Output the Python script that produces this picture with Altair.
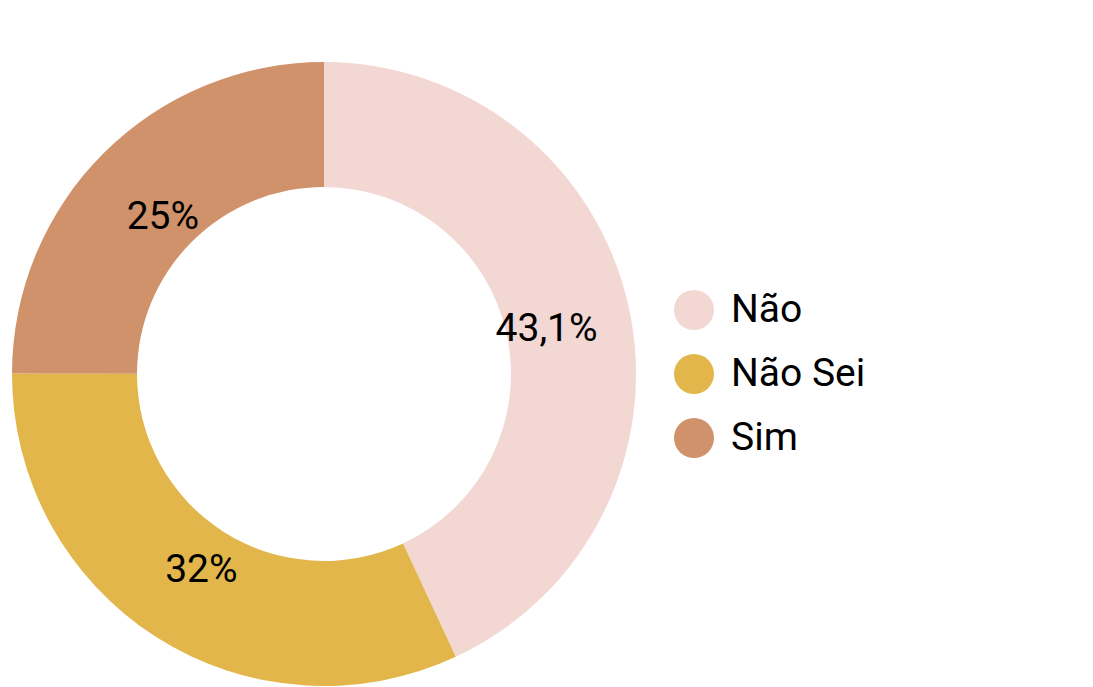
import altair as alt
import pandas as pd

categories = ["Não", "Não Sei", "Sim"]
values = [43.1, 32.0, 25.0]
labels = ["43,1%", "32%", "25%"]
colors = ["#f2d7d2", "#e2b64a", "#d0926a"]

df = pd.DataFrame({"cat": categories, "val": values, "label": labels, "order": [0, 1, 2]})

CX, CY = 316, 366

base = alt.Chart(df).encode(
    theta=alt.Theta("val:Q", stack=True),
    order=alt.Order("order:Q"),
)

arcs = base.mark_arc(
    x=CX, y=CY, outerRadius=312, innerRadius=187, strokeWidth=0
).encode(
    color=alt.Color(
        "cat:N",
        scale=alt.Scale(domain=categories, range=colors),
        sort=categories,
        legend=alt.Legend(
            title=None,
            orient="none",
            legendX=666,
            legendY=282,
            symbolType="circle",
            symbolSize=1600,
            symbolStrokeWidth=0,
            symbolOpacity=1,
            labelFont="Roboto",
            labelFontSize=39,
            labelColor="#000000",
            labelOffset=17,
            rowPadding=24,
            padding=0,
        ),
    )
)

text = base.mark_text(
    x=CX, y=CY, radius=228, dy=4, font="Roboto", fontSize=39, color="#000000",
    align="center", baseline="middle"
).encode(text="label:N")

chart = (arcs + text).properties(
    width=1077, height=679, padding=0, autosize=alt.AutoSizeParams(type="none")
).configure_view(stroke=None)

chart.save("out.html", embed_options={"renderer": "svg", "actions": False})
